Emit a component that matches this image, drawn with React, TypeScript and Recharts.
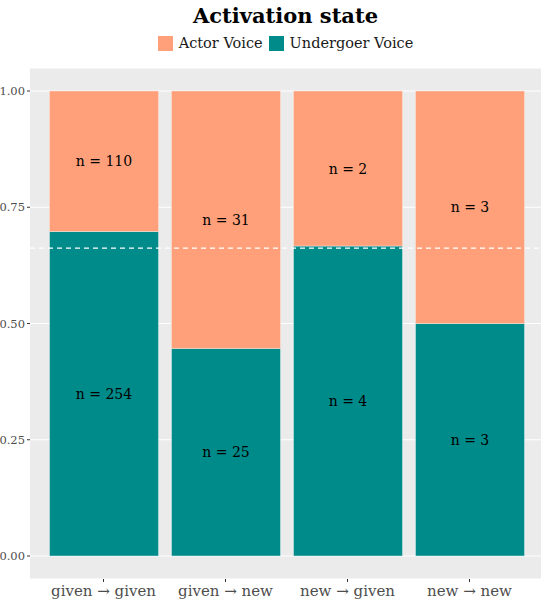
import React from "react";
import {
  BarChart, Bar, XAxis, YAxis, CartesianGrid, ReferenceLine, LabelList,
} from "recharts";

// counts per transition
const categories = ["given \u2192 given", "given \u2192 new", "new \u2192 given", "new \u2192 new"];
const actorCounts = [110, 31, 2, 3];
const undergoerCounts = [254, 25, 4, 3];
const yTicks = [0, 0.25, 0.5, 0.75, 1];

const ACTOR = "#FFA07A";
const UNDERGOER = "#008B8B";
const FONT = "'DejaVu Serif', 'Liberation Serif', serif";

const data = categories.map((cat, i) => {
  const total = actorCounts[i] + undergoerCounts[i];
  return {
    cat,
    uv: undergoerCounts[i] / total,
    av: actorCounts[i] / total,
    uvN: undergoerCounts[i],
    avN: actorCounts[i],
  };
});

// overall share of undergoer voice
const sumUV = undergoerCounts.reduce((a, b) => a + b, 0);
const sumAll = sumUV + actorCounts.reduce((a, b) => a + b, 0);
const overall = sumUV / sumAll;

const renderLabel = (key: "uvN" | "avN") => (props: any) => {
  const { x, y, width, height, index } = props;
  return (
    <text
      x={x + width / 2}
      y={y + height / 2}
      textAnchor="middle"
      dominantBaseline="central"
      fontSize={14}
      fontFamily={FONT}
      fill="#000"
    >
      {`n = ${data[index][key]}`}
    </text>
  );
};

export default function App() {
  return (
    <div style={{ position: "absolute", left: 0, top: 0, width: 541, height: 601, background: "#fff" }}>
      <div
        style={{
          position: "absolute", top: 3, left: 30, width: 511, textAlign: "center",
          fontFamily: FONT, fontWeight: "bold", fontSize: 21, color: "#000",
        }}
      >
        Activation state
      </div>
      <div
        style={{
          position: "absolute", top: 35, left: 30, width: 511, display: "flex",
          justifyContent: "center", alignItems: "center", fontFamily: FONT, fontSize: 14.5, color: "#1a1a1a",
        }}
      >
        <span style={{ width: 15, height: 15, background: ACTOR, display: "inline-block", marginRight: 6 }} />
        <span style={{ marginRight: 6 }}>Actor Voice</span>
        <span style={{ width: 15, height: 15, background: UNDERGOER, display: "inline-block", marginRight: 6 }} />
        <span>Undergoer Voice</span>
      </div>
      <BarChart
        width={541}
        height={601}
        data={data}
        margin={{ top: 68, right: 0, bottom: 0, left: 0 }}
        barSize={109}
      >
        <CartesianGrid fill="#EBEBEB" stroke="#fff" strokeWidth={1.2} vertical={false} />
        <XAxis
          dataKey="cat"
          height={22}
          padding={{ left: 12.5, right: 10.5 }}
          axisLine={false}
          tickLine={{ stroke: "#333" }}
          tickSize={3}
          tick={{ fontFamily: FONT, fontSize: 15, fill: "#4D4D4D", dy: 1 }}
        />
        <YAxis
          type="number"
          domain={[0, 1]}
          ticks={yTicks}
          width={30}
          padding={{ top: 23, bottom: 23 }}
          axisLine={false}
          tickLine={{ stroke: "#333" }}
          tickSize={3}
          tickFormatter={(v: number) => v.toFixed(2)}
          tick={{ fontFamily: FONT, fontSize: 11.5, fill: "#4D4D4D" }}
        />
        <Bar dataKey="uv" stackId="s" fill={UNDERGOER} stroke="#dfeeee" strokeWidth={0.5} isAnimationActive={false}>
          <LabelList dataKey="uvN" content={renderLabel("uvN")} />
        </Bar>
        <Bar dataKey="av" stackId="s" fill={ACTOR} stroke="#fbe6dc" strokeWidth={0.5} isAnimationActive={false}>
          <LabelList dataKey="avN" content={renderLabel("avN")} />
        </Bar>
        <ReferenceLine y={overall} stroke="#fff" strokeDasharray="5 4" strokeWidth={1.2} ifOverflow="extendDomain" />
      </BarChart>
    </div>
  );
}
